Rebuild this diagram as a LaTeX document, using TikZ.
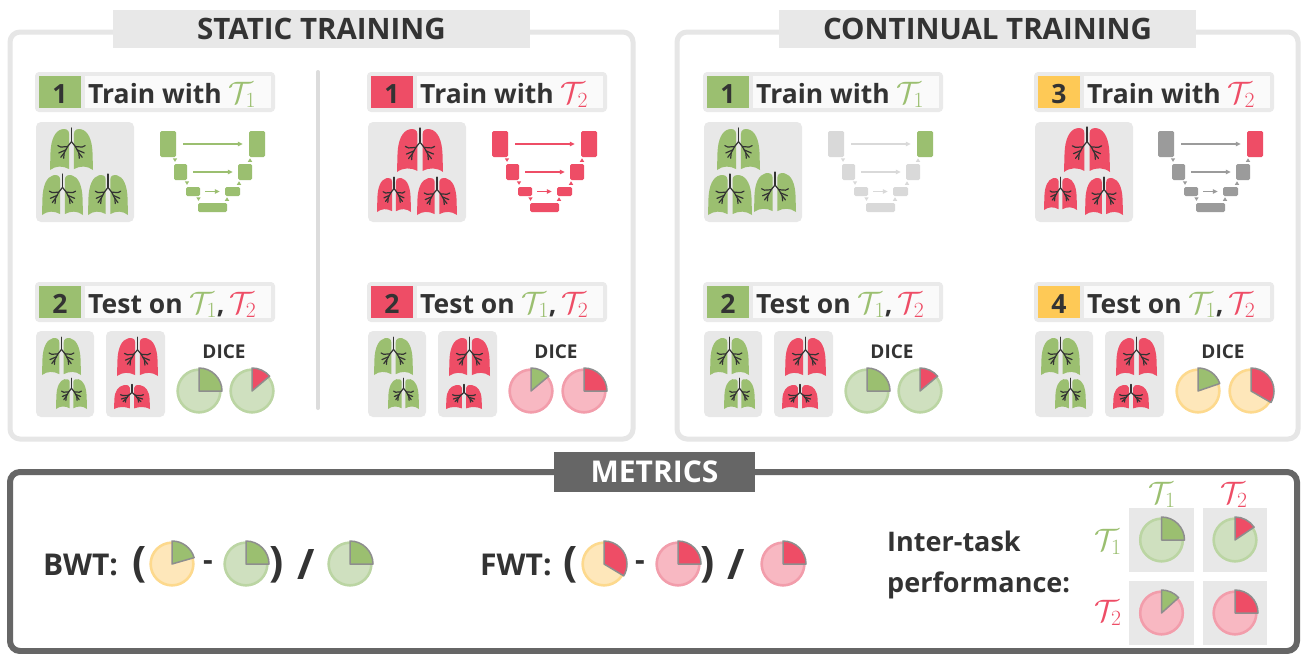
\RequirePackage{fix-cm}
\documentclass[tikz,border=0pt]{standalone}
\usepackage[no-math]{fontspec}
\setmainfont{Open Sans}
\usetikzlibrary{arrows.meta}

\definecolor{ink}{HTML}{333333}
\definecolor{cgreen}{HTML}{9BBF70}
\definecolor{cred}{HTML}{EE4D66}
\definecolor{cyellow}{HTML}{FEC956}
\definecolor{lgreen}{HTML}{CFE0BF}
\definecolor{rgreen}{HTML}{BBD5A3}
\definecolor{lred}{HTML}{F8B8C2}
\definecolor{rred}{HTML}{F29DAB}
\definecolor{lyellow}{HTML}{FEE7BA}
\definecolor{ryellow}{HTML}{FDD98D}
\definecolor{wedgeline}{HTML}{8E8E8E}
\definecolor{boxgray}{HTML}{E8E8E8}
\definecolor{panelgray}{HTML}{E6E6E6}
\definecolor{metricgray}{HTML}{666666}
\definecolor{netlight}{HTML}{D9D9D9}
\definecolor{netmid}{HTML}{9B9B9B}
\definecolor{lblin}{HTML}{FAFAFA}

\newcommand\fsz[1]{\fontsize{#1}{#1}\selectfont}
\newcommand\Tone{\textcolor{cgreen}{\fsz{31}$\mathcal{T}_1$}}
\newcommand\Ttwo{\textcolor{cred}{\fsz{31}$\mathcal{T}_2$}}

% step caption: name, left x, top y, number colour, number, text
\newcommand\steplabel[6]{%
  \fill[boxgray!90, rounded corners=4] (#2,#3) rectangle ++(240,40);
  \fill[#4] (#2+4,#3+4) rectangle ++(42,32);
  \fill[lblin] (#2+50,#3+4) rectangle ++(186,32);
  \node[lbltext, anchor=base] (#1n) at (#2+25,#3+31) {#5};
  \node[lbltext, anchor=base west] (#1t) at (#2+53,#3+31) {#6};
}

% a pair of lungs: centre x, top y, width, height, colour
\newcommand\lung[5]{%
  \begin{scope}[shift={(#1,#2)}, xscale=#3/44, yscale=#4/42]
    \foreach \s in {1,-1}{
      \begin{scope}[xscale=\s]
        \fill[#5] (-2.5,5) .. controls (-2.5,0.5) and (-6,-0.5) .. (-10,0.3)
          .. controls (-17,2) and (-21,11) .. (-21.5,24) -- (-22,42)
          .. controls (-16,37.5) and (-9,37.5) .. (-2.5,41) -- cycle;
        \draw[bronchus] (0,13) -- (-4,18) -- (-7.5,24.5) -- (-8,30);
        \draw[bronchus] (-4,18) -- (-11,18.5) -- (-14,17);
        \draw[bronchus] (-6,21.5) -- (-13,24.5);
        \draw[bronchus] (-7.5,24.5) -- (-11,29);
      \end{scope}}
    \draw[bronchus] (0,-1) -- (0,13);
  \end{scope}}

% small U-Net: left x, top y, block colour, last block colour
\newcommand\unet[4]{%
  \begin{scope}[shift={(#1,#2)}]
    \node[ublock, fill=#3, minimum width=16, minimum height=26] (e1) at (8,13) {};
    \node[ublock, fill=#3, minimum width=13, minimum height=16] (e2) at (20.5,41) {};
    \node[ublock, fill=#3, minimum width=14, minimum height=9] (e3) at (33,60.5) {};
    \node[ublock, fill=#3, minimum width=29, minimum height=9] (bt) at (52.5,76.5) {};
    \node[ublock, fill=#3, minimum width=15, minimum height=9] (d3) at (72.5,60.5) {};
    \node[ublock, fill=#3, minimum width=14, minimum height=16] (d2) at (85,41) {};
    \node[ublock, fill=#4, minimum width=16, minimum height=26] (d1) at (97,13) {};
    \draw[skiparrow=#3, shorten <=7, shorten >=6] (e1) -- (d1);
    \draw[skiparrow=#3, shorten <=6, shorten >=5] (e2) -- (d2);
    \draw[skiparrow=#3, shorten <=5, shorten >=5] (e3) -- (d3);
    \fill[#3] (12.8,27.3) -- (17.2,27.3) -- (15,30.8) -- cycle;
    \fill[#3] (24.8,50.3) -- (29.2,50.3) -- (27,53.8) -- cycle;
    \fill[#3] (36.3,66.3) -- (40.7,66.3) -- (38.5,69.8) -- cycle;
    \fill[#3] (64.8,69.8) -- (69.2,69.8) -- (67,66.3) -- cycle;
    \fill[#3] (76.8,53.8) -- (81.2,53.8) -- (79,50.3) -- cycle;
    \fill[#3] (87.8,30.8) -- (92.2,30.8) -- (90,27.3) -- cycle;
  \end{scope}}

% Dice pie: name, x, y, base colour, wedge colour, end angle
\newcommand\dicepie[6]{%
  \coordinate (#1) at (#2,#3);
  \begin{scope}[shift={(#2,#3)}, yscale=-1]
    \fill[l#4] (0,0) circle (22.5);
    \draw[r#4, line width=2.5] (0,0) circle (21.3);
    \filldraw[fill=c#5, draw=wedgeline, line width=1.5, line join=round]
      (0,0) -- (0,23) arc (90:#6:23) -- cycle;
  \end{scope}}

\begin{document}
\begin{tikzpicture}[x=1pt, y=-1pt,
  panel/.style={draw=panelgray, line width=5, rounded corners=10},
  titlebox/.style={fill=boxgray, minimum width=417, minimum height=38, inner sep=0,
    font=\fsz{29.5}\bfseries, text=ink},
  sep/.style={draw=boxgray!95!black, line width=4, line cap=round},
  lbltext/.style={font=\fsz{26.5}\bfseries, text=ink, inner sep=0},
  dicetext/.style={font=\fsz{19}\bfseries, text=ink, inner sep=0},
  imgbox/.style={fill=boxgray, rounded corners=5},
  bronchus/.style={draw=ink, line width=1.2, line cap=round, line join=round},
  ublock/.style={rounded corners=1.5, inner sep=0, draw=none},
  skiparrow/.style={draw=#1, line width=1.3, -{Triangle[length=5,width=4.5]}},
  metrictext/.style={font=\fsz{30}\bfseries, text=ink, inner sep=0},
  paren/.style={font=\fsz{42}\bfseries, text=ink, inner sep=0},
  minussign/.style={font=\fsz{30}\bfseries, text=ink, inner sep=0},
  tlabel/.style={inner sep=0}]

\fill[white] (0,0) rectangle (1303,653);
\useasboundingbox (0,0) rectangle (1303,653);

% ---------- panels ----------
\draw[panel] (10,32) rectangle (633,439);
\draw[panel] (677,32) rectangle (1298,439);
\node[titlebox] (tstatic) at (321.5,29) {STATIC TRAINING};
\node[titlebox] (tcont) at (987.5,29) {CONTINUAL TRAINING};
\draw[sep] (318,72) -- (318,408);

% ---------- static training, task 1 ----------
\steplabel{sa}{35}{72}{cgreen}{1}{Train with \Tone}
\fill[imgbox] (36,122) rectangle (134,222);
\lung{71.5}{129}{43}{41}{cgreen}
\lung{62.5}{175}{41}{40}{cgreen}
\lung{108}{175}{40}{40}{cgreen}
\unet{160}{131}{cgreen}{cgreen}
\steplabel{sb}{35}{282}{cgreen}{2}{Test on \Tone\textcolor{ink}{,}\,\Ttwo}
\fill[imgbox] (36,331) rectangle (94,417);
\lung{61.5}{338}{39}{37}{cgreen}
\lung{71.5}{379}{31}{30}{cgreen}
\fill[imgbox] (106,331) rectangle (165,417);
\lung{137.5}{338}{41}{38}{cred}
\lung{132}{385}{36}{24}{cred}
\node[dicetext] (sdice1) at (224,352) {DICE};
\dicepie{sp1}{199}{391}{green}{green}{0}
\dicepie{sp2}{252}{391}{green}{red}{40}

% ---------- static training, task 2 ----------
\steplabel{sc}{367}{72}{cred}{1}{Train with \Ttwo}
\fill[imgbox] (368,122) rectangle (466,222);
\lung{420}{129}{46}{43}{cred}
\lung{394}{178}{34}{34}{cred}
\lung{437}{178}{40}{37}{cred}
\unet{492}{131}{cred}{cred}
\steplabel{sd}{367}{282}{cred}{2}{Test on \Tone\textcolor{ink}{,}\,\Ttwo}
\fill[imgbox] (368,331) rectangle (426,417);
\lung{393.5}{338}{39}{37}{cgreen}
\lung{403.5}{379}{31}{30}{cgreen}
\fill[imgbox] (438,331) rectangle (497,417);
\lung{469.5}{338}{41}{38}{cred}
\lung{464}{385}{36}{24}{cred}
\node[dicetext] (sdice2) at (556,352) {DICE};
\dicepie{sp3}{531}{391}{red}{green}{40}
\dicepie{sp4}{584}{391}{red}{red}{0}

% ---------- continual training, step 1-2 ----------
\steplabel{ca}{703}{72}{cgreen}{1}{Train with \Tone}
\fill[imgbox] (704,122) rectangle (802,222);
\lung{738.5}{129}{43}{41}{cgreen}
\lung{730}{175}{44}{40}{cgreen}
\lung{775}{173}{42}{39}{cgreen}
\unet{828}{131}{netlight}{cgreen}
\steplabel{cb}{703}{282}{cgreen}{2}{Test on \Tone\textcolor{ink}{,}\,\Ttwo}
\fill[imgbox] (704,331) rectangle (762,417);
\lung{729.5}{338}{39}{37}{cgreen}
\lung{739.5}{379}{31}{30}{cgreen}
\fill[imgbox] (774,331) rectangle (833,417);
\lung{805.5}{338}{41}{38}{cred}
\lung{800}{385}{36}{24}{cred}
\node[dicetext] (cdice1) at (892,352) {DICE};
\dicepie{cp1}{867}{391}{green}{green}{0}
\dicepie{cp2}{920}{391}{green}{red}{40}

% ---------- continual training, step 3-4 ----------
\steplabel{cc}{1034}{72}{cyellow}{3}{Train with \Ttwo}
\fill[imgbox] (1035,122) rectangle (1133,222);
\lung{1087}{128}{46}{44}{cred}
\lung{1060.5}{178}{33}{32}{cred}
\lung{1104}{178}{38}{37}{cred}
\unet{1158}{131}{netmid}{cred}
\steplabel{cd}{1034}{282}{cyellow}{4}{Test on \Tone\textcolor{ink}{,}\,\Ttwo}
\fill[imgbox] (1035,331) rectangle (1093,417);
\lung{1060.5}{338}{39}{37}{cgreen}
\lung{1070.5}{379}{31}{30}{cgreen}
\fill[imgbox] (1105,331) rectangle (1164,417);
\lung{1136.5}{338}{41}{38}{cred}
\lung{1131}{385}{36}{24}{cred}
\node[dicetext] (cdice2) at (1223,352) {DICE};
\dicepie{cp3}{1198}{391}{yellow}{green}{19}
\dicepie{cp4}{1251}{391}{yellow}{red}{-30}

% ---------- metrics ----------
\draw[draw=metricgray, line width=6, rounded corners=10] (10,472) rectangle (1297,651);
\node[fill=metricgray, minimum width=201, minimum height=40, inner sep=0,
  font=\fsz{30}\bfseries, text=white] (metrics) at (654.5,472) {METRICS};

% backward transfer
\node[metrictext, anchor=base west] (bwt) at (43,575) {BWT:};
\node[paren] (bwtl) at (140,565) {(};
\dicepie{bp1}{172}{564}{yellow}{green}{16}
\node[minussign] (bwtm) at (208,566) {-};
\dicepie{bp2}{246}{564}{green}{green}{0}
\node[paren] (bwtr) at (277,565) {)};
\node[paren] (bwts) at (306,565) {/};
\dicepie{bp3}{350}{564}{green}{green}{0}

% forward transfer
\node[metrictext, anchor=base west] (fwt) at (480,575) {FWT:};
\node[paren] (fwtl) at (571,565) {(};
\dicepie{fp1}{604}{564}{yellow}{red}{-31}
\node[minussign] (fwtm) at (640,566) {-};
\dicepie{fp2}{678}{564}{red}{red}{0}
\node[paren] (fwtr) at (708,565) {)};
\node[paren] (fwts) at (736,565) {/};
\dicepie{fp3}{783}{564}{red}{red}{0}

% inter-task performance
\node[metrictext, anchor=base west, font=\fsz{27}\bfseries] (inter) at (887,551) {Inter-task};
\node[metrictext, anchor=base west, font=\fsz{27}\bfseries] (perf) at (887,592) {performance:};
\fill[boxgray] (1129,508) rectangle (1194,572);
\fill[boxgray] (1203,508) rectangle (1267,572);
\fill[boxgray] (1129,581) rectangle (1194,645);
\fill[boxgray] (1203,581) rectangle (1267,645);
\node[tlabel] (colA) at (1162,495) {\Tone};
\node[tlabel] (colB) at (1234,495) {\Ttwo};
\node[tlabel] (rowA) at (1108,542) {\Tone};
\node[tlabel] (rowB) at (1108,613) {\Ttwo};
\dicepie{g11}{1161.5}{540}{green}{green}{0}
\dicepie{g12}{1235}{540}{green}{red}{34}
\dicepie{g21}{1161.5}{613}{red}{green}{42}
\dicepie{g22}{1235}{613}{red}{red}{0}
\end{tikzpicture}
\end{document}
